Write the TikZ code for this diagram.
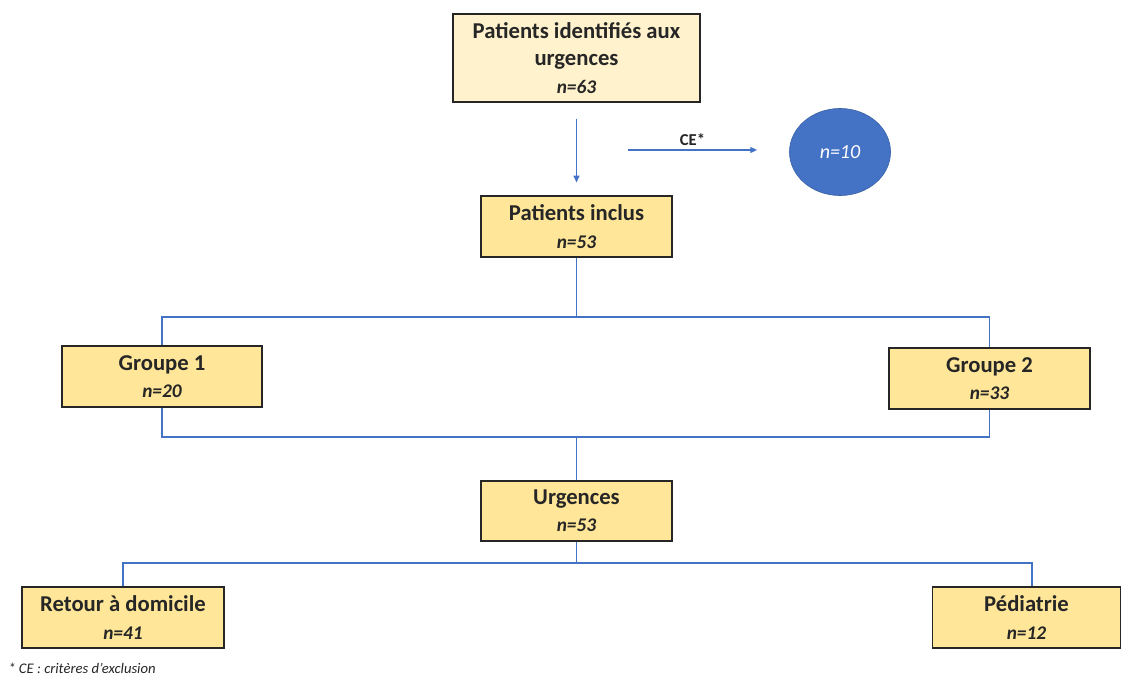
\documentclass[tikz,border=0pt]{standalone}
\usepackage{fontspec}
\setmainfont{Carlito}
\usetikzlibrary{arrows.meta}
\usetikzlibrary{shapes.geometric}
\definecolor{cadre}{HTML}{262626}
\definecolor{jaune}{HTML}{FFE699}
\definecolor{creme}{HTML}{FFF2CC}
\definecolor{bleu}{HTML}{4472C4}
\newcommand{\effectif}[1]{{\fontsize{14.5}{20}\selectfont\itshape #1}}
\tikzset{
  boite/.style={draw=cadre,line width=0.9pt,fill=jaune,inner sep=0pt,
    minimum height=45.75pt,align=center,text=cadre,
    font=\fontsize{17}{20.5}\selectfont\bfseries},
  lien/.style={draw=bleu,line width=0.8pt},
  fleche/.style={lien,-{Triangle[length=5pt,width=4.5pt]}}
}
\begin{document}
\begin{tikzpicture}[x=0.75pt,y=-0.75pt]
\useasboundingbox (0,0) rectangle (1123,677);
%boites
\node[boite,fill=creme,minimum width=185.25pt,minimum height=66pt] (ident) at (576.5,58)
  {Patients identifiés aux\\urgences\\\effectif{n=63}};
\node[boite,minimum width=143.25pt] (inclus) at (576.5,226.5) {Patients inclus\\\effectif{n=53}};
\node[boite,minimum width=150pt] (gr1) at (162,376.5) {Groupe 1\\\effectif{n=20}};
\node[boite,minimum width=150.75pt] (gr2) at (989.5,378.5) {Groupe 2\\\effectif{n=33}};
\node[boite,minimum width=143.25pt,minimum height=45pt] (urg) at (576.5,511) {Urgences\\\effectif{n=53}};
\node[boite,minimum width=151.5pt] (ret) at (123,617.5) {Retour à domicile\\\effectif{n=41}};
\node[boite,minimum width=141pt] (ped) at (1026.5,617.5) {Pédiatrie\\\effectif{n=12}};
\node[ellipse,fill=bleu,draw=bleu!85!black,line width=0.5pt,minimum width=75.75pt,minimum height=65.25pt,
  inner sep=0pt,text=white,font=\fontsize{15}{18}\selectfont\itshape] (excl) at (840,152) {n=10};
%exclusion
\coordinate (ceDep) at (628,150);
\coordinate (ceFin) at (757,150);
\draw[fleche,shorten <=12pt,shorten >=9.75pt] (ident) -- (inclus);
\draw[fleche] (ceDep) -- (ceFin)
  node[midway,above=3pt,inner sep=0pt,text=cadre,font=\fontsize{12.5}{15}\selectfont\bfseries] (ce) {CE*};
%repartition
\coordinate (sepA) at (576.5,317);
\coordinate (sepB) at (576.5,437);
\coordinate (sepC) at (576.5,563);
\draw[lien] (inclus.south) -- (sepA);
\draw[lien] (gr1.north) |- (sepA) -| (gr2.north);
\draw[lien] (gr1.south) |- (sepB) -| (gr2.south);
\draw[lien] (sepB) -- (urg.north);
\draw[lien] (urg.south) -- (sepC);
\draw[lien] (ret.north) |- (sepC) -| ([xshift=4.1pt]ped.north);
%note
\node[anchor=base west,inner sep=0pt,text=cadre,font=\fontsize{11}{13}\selectfont\itshape] (note) at (8,673)
  {* CE : critères d’exclusion};
\end{tikzpicture}
\end{document}
